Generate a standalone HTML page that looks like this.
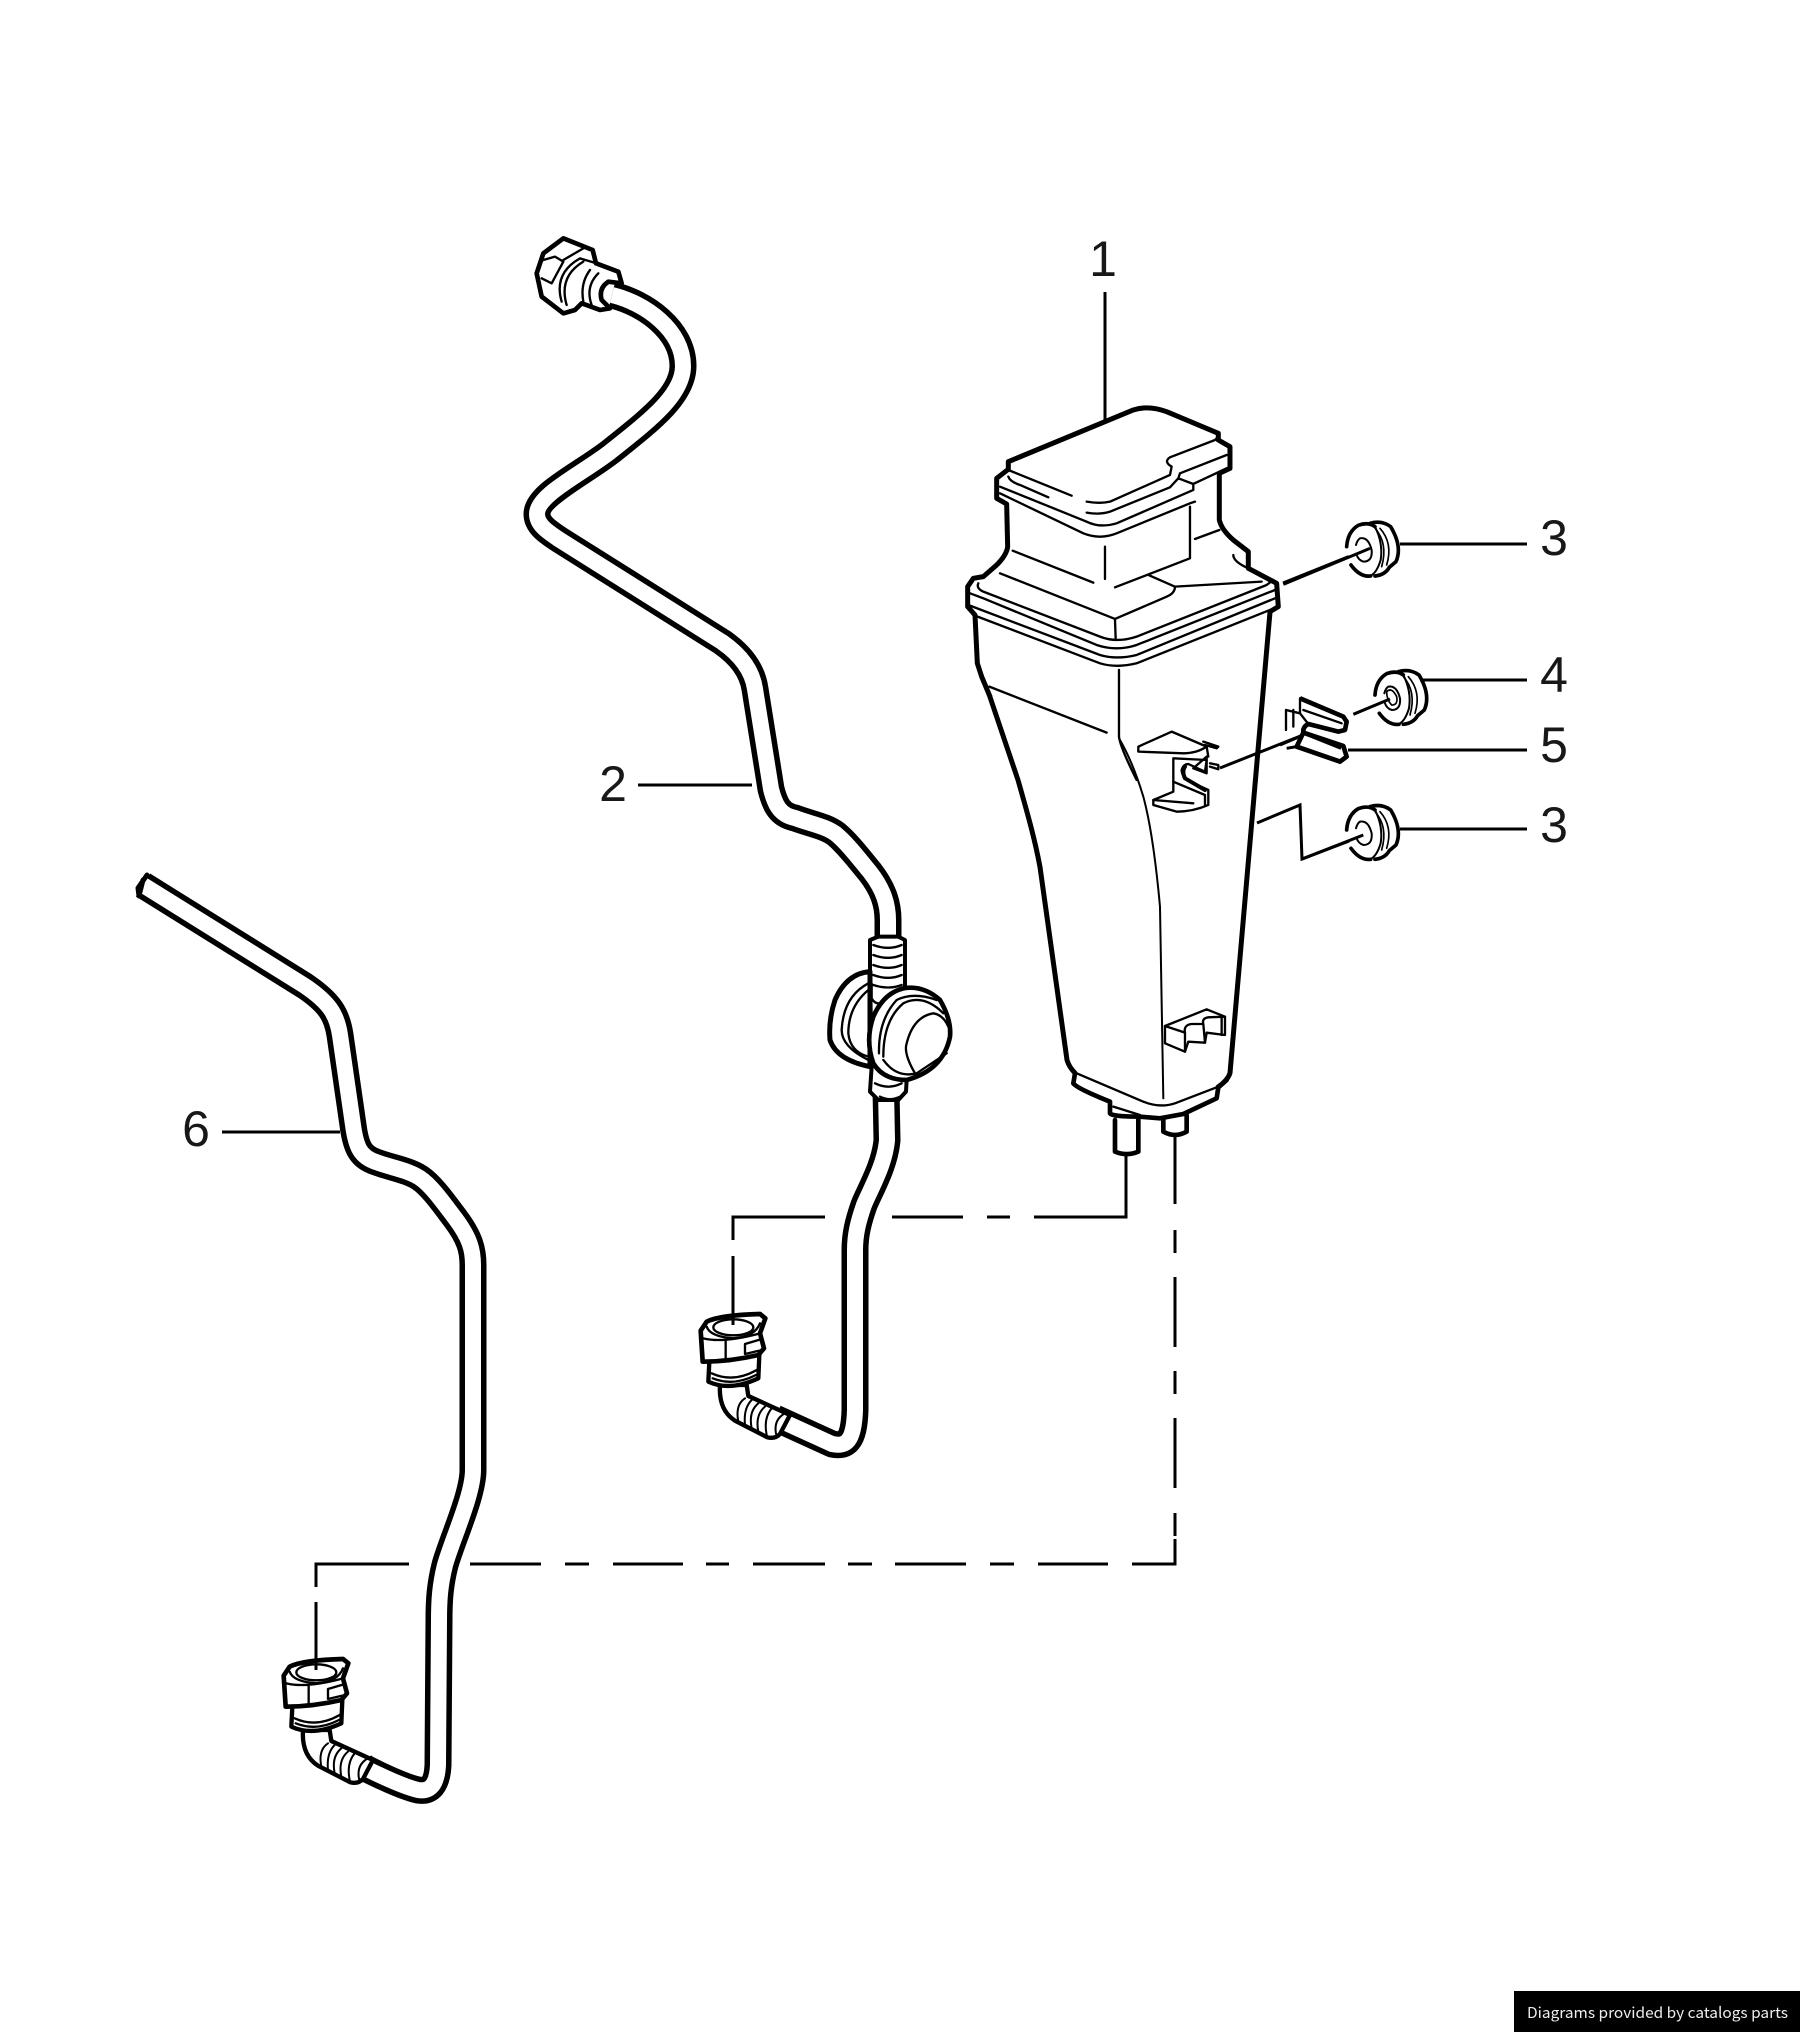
<!DOCTYPE html>
<html><head><meta charset="utf-8"><title>Diagram</title>
<style>html,body{margin:0;padding:0;background:#fff}svg{display:block}
.k{fill:none;stroke:#000;stroke-linecap:round;stroke-linejoin:round}
text{font-family:"Liberation Sans",sans-serif;font-size:50px;fill:#181818}
</style></head><body>
<svg xmlns="http://www.w3.org/2000/svg" width="1800" height="2032" viewBox="0 0 1800 2032">
<defs>
<g id="conn">
 <path d="M120 285Q115 360 165 392L262 442Q285 448 300 432L330 375L205 318L200 285Z" fill="#fff" stroke="#000" stroke-width="13" stroke-linejoin="round"/>
 <path class="k" stroke-width="6" d="M195 325Q165 345 175 395M215 330Q190 355 195 405M235 340Q205 365 215 415M255 350Q225 375 235 425M275 355Q250 385 260 435M325 365Q275 385 290 440"/>
 <path d="M88 215L85 275Q150 305 235 265L238 195Z" fill="#fff" stroke="#000" stroke-width="13" stroke-linejoin="round"/>
 <path class="k" stroke-width="7" d="M95 250Q160 280 230 240M98 265Q160 290 228 255"/>
 <path d="M68 215L62 122L80 95Q120 75 240 72L256 85L240 130L252 175L235 195Q150 215 68 215Z" fill="#fff" stroke="#000" stroke-width="14" stroke-linejoin="round"/>
 <path class="k" stroke-width="7" d="M70 145Q130 160 240 130M137 152L137 212M242 148L195 162L195 192L238 182"/>
 <ellipse cx="160" cy="112" rx="60" ry="24" fill="#fff" stroke="#000" stroke-width="7"/>
 <path class="k" stroke-width="7" d="M80 110Q90 140 160 145Q225 140 240 100"/>
</g>
<g id="nut">
 <path class="k" stroke-width="11" d="M270 70Q305 60 332 80Q368 140 348 185L328 202Q315 225 285 228"/>
 <path class="k" stroke-width="5" d="M285 85Q325 130 305 200M300 85Q340 130 320 195"/>
 <path d="M215 95Q250 65 280 80Q310 130 300 180Q285 230 250 228Q205 210 200 130Z" fill="#fff" stroke="none"/>
 <path class="k" stroke-width="11" d="M200 140Q203 95 235 76Q265 65 285 80M213 195Q240 232 272 228"/>
 <path class="k" stroke-width="6" d="M285 80Q310 130 302 180Q290 220 270 228"/>
 <path class="k" stroke-width="6" d="M240 115Q265 110 275 150Q278 185 250 185Q235 180 230 165M228 135Q232 120 240 115"/>
</g>
</defs>

<!-- tube 6 -->
<g fill="none" stroke-linejoin="round">
<path d="M143 885L305 986C330 1003 337 1015 340 1035L353 1125C356 1148 361 1157 376 1162C392 1168 408 1170 420 1178C432 1186 445 1205 455 1218C470 1238 473 1250 473 1265L473 1470C473 1495 452 1540 445 1565C440 1585 439 1600 439 1620L438 1765C437 1785 430 1792 418 1790C405 1787 385 1778 365 1768" stroke="#000" stroke-width="27"/>
<path d="M143 885L305 986C330 1003 337 1015 340 1035L353 1125C356 1148 361 1157 376 1162C392 1168 408 1170 420 1178C432 1186 445 1205 455 1218C470 1238 473 1250 473 1265L473 1470C473 1495 452 1540 445 1565C440 1585 439 1600 439 1620L438 1765C437 1785 430 1792 418 1790C405 1787 385 1778 365 1768" stroke="#fff" stroke-width="16"/>
<!-- tube 2 -->
<path d="M612 295C645 303 683 330 683 366C683 395 650 420 610 452C580 475 537 495 537 514C537 525 548 532 560 540L722 642C745 658 753 675 755 689L771 789C775 805 780 815 795 818C811 824 825 826 836 834C848 844 860 860 870 872C884 890 888 905 888 920L888 950" stroke="#000" stroke-width="27"/>
<path d="M612 295C645 303 683 330 683 366C683 395 650 420 610 452C580 475 537 495 537 514C537 525 548 532 560 540L722 642C745 658 753 675 755 689L771 789C775 805 780 815 795 818C811 824 825 826 836 834C848 844 860 860 870 872C884 890 888 905 888 920L888 950" stroke="#fff" stroke-width="16"/>
<path d="M886 1090L887 1140C885 1165 870 1190 864 1205C858 1222 855 1235 855 1250L855 1410C854 1442 846 1447 832 1444L775 1418" stroke="#000" stroke-width="27"/>
<path d="M886 1090L887 1140C885 1165 870 1190 864 1205C858 1222 855 1235 855 1250L855 1410C854 1442 846 1447 832 1444L775 1418" stroke="#fff" stroke-width="16"/>
</g>
<path class="k" stroke-width="5" d="M147 875L138 888L139 896M143 880L140 892"/>

<!-- leaders -->
<g fill="none" stroke="#000" stroke-width="3">
 <path d="M1126 1155V1217H1034M1010 1217H987M963 1217H892M825 1217H733V1240M733 1256V1320"/>
 <path d="M1175 1136V1204M1175 1230V1253M1175 1277V1347M1175 1371V1394M1175 1418V1488M1175 1513V1536M1175 1539V1564H1132M1108 1564H1038M1014 1564H990M966 1564H895M872 1564H848M825 1564H753M729 1564H706M683 1564H613M589 1564H565M541 1564H470M409 1564H316V1587M316 1602V1668"/>
 <path d="M1105 292V422M638 785H752M222 1132H340"/>
 <path d="M1283 583L1370 548M1400 544H1527M1220 768L1303 735M1420 680H1527M1348 750H1527M1400 829H1527M1257 823L1300 805L1302 859L1365 835"/>
</g>

<!-- connectors -->
<g transform="translate(680 1290) scale(.3333)"><use href="#conn"/></g>
<g transform="translate(263 1635) scale(.3333)"><use href="#conn"/></g>
<path d="M733 1305V1325M316 1650V1670" stroke="#000" stroke-width="3"/>

<!-- top connector -->
<g transform="translate(520 220) scale(.3333)">
 <path d="M130 55L70 100L50 160L65 230L130 280L165 270L185 250L240 270L270 265L245 240Q235 205 265 185L305 190L295 155L228 130L218 90Z" fill="#fff" stroke="#000" stroke-width="14" stroke-linejoin="round"/>
 <path class="k" stroke-width="7" d="M70 120L105 110L130 125L95 190L65 175M130 120L190 85M125 245Q100 160 180 115L230 130M210 150Q180 190 190 245M235 160Q195 200 215 255M140 255Q115 170 190 125"/>
</g>

<!-- bulb -->
<g transform="translate(800 920) scale(.3333)">
 <path d="M210 155L210 60L235 50L295 50L315 60L315 210L320 480L318 515L295 540L235 540L210 515L215 440Z" fill="#fff" stroke="#000" stroke-width="12" stroke-linejoin="round"/>
 <path class="k" stroke-width="7" d="M220 75Q265 92 305 75M220 105Q265 122 305 105M220 135Q265 152 305 135M220 165Q265 182 305 165M220 195Q265 210 305 195M225 490Q265 510 305 490M240 530Q270 545 300 530"/>
 <path d="M210 155Q140 160 105 240Q85 300 90 360Q110 420 210 440Z" fill="#fff" stroke="#000" stroke-width="15" stroke-linejoin="round"/>
 <path class="k" stroke-width="7" d="M205 190Q130 230 125 330Q125 380 205 420M205 210Q145 260 145 340Q150 395 205 410M215 190L215 235Q225 255 250 250"/>
 <path d="M310 205Q370 195 420 240Q455 300 450 350Q430 450 320 480Q250 480 220 430Q195 360 220 290Q250 220 310 205Z" fill="#fff" stroke="#000" stroke-width="14" stroke-linejoin="round"/>
 <path class="k" stroke-width="7" d="M237 400Q235 300 290 240Q340 215 410 240M250 410Q250 300 310 250Q370 220 430 280M345 460Q310 400 320 370Q340 290 400 280Q430 285 445 320M250 420Q290 475 350 460L440 400"/>
</g>

<!-- tank outer edges, absolute -->
<path class="k" stroke-width="5" d="M990 697L1018 780C1028 815 1035 840 1040 867L1067 1060Q1069 1067 1075 1073M1270 612L1230 1073Q1228 1080 1218 1087"/>

<!-- tank upper, coordinates from crop at (940,380) -->
<g transform="translate(940 380) scale(.3333)">
 <path class="k" stroke-width="15" d="M205 268L205 245L580 90Q625 75 680 95L835 160L835 180L870 200L870 265L838 280L838 420Q845 450 880 480L925 515L925 565L1010 610L1015 680L990 695M205 268L170 295L170 355L200 372L203 500Q200 525 170 555L130 590L100 595L83 620L83 680L105 705L112 850L125 890L150 950"/>
 <path class="k" stroke-width="7" d="M205 270L395 347M205 290Q210 305 240 315L325 352M440 365Q480 372 510 365L690 285L695 260Q670 245 690 232L825 180L835 170M440 398Q480 405 510 395L690 322L715 295L720 280L860 225M715 295L760 312L760 330L530 430Q480 445 440 425L180 320M760 312L860 265M180 340L430 460Q480 480 530 460L750 370L765 365M750 380L750 535L525 622M495 500L495 597M218 512L460 608M180 580L525 717L680 650Q705 640 705 620L625 585M705 620L965 605M525 717L527 775M765 477L838 450M880 525Q880 545 925 565M115 610Q108 625 130 635L480 770Q530 790 590 770L980 615L1000 600M90 640L130 655L470 795Q530 815 590 795L1005 630M85 675L480 825Q530 840 590 825L1005 655M100 705L480 850Q530 865 590 850L990 690M537 870L537 1070Q540 1100 590 1200M148 920L500 1058"/>
</g>
<!-- tank lower, crop at (1040,740) -->
<g transform="translate(1040 740) scale(.3333)">
 <path class="k" stroke-width="6" d="M240 0Q280 70 310 170Q340 280 360 500L370 1075"/>
</g>
<!-- tank base, crop at (1060,1000) -->
<g transform="translate(1060 1000) scale(.3333)">
 <path class="k" stroke-width="14" d="M45 220L40 250Q50 265 150 305L150 340Q155 350 240 350L300 355L370 342L470 295L475 262L500 240"/>
 <path class="k" stroke-width="14" d="M165 360L165 455Q200 470 235 455L235 350M310 358L310 395Q345 415 380 395L380 345"/>
 <path class="k" stroke-width="7" d="M50 220L250 305Q300 325 345 310L470 262M160 320L240 345"/>
 <path d="M315 78L440 28L495 50L495 105L440 98L435 128L385 125L375 155L315 130Z" fill="#fff" stroke="#000" stroke-width="7" stroke-linejoin="round"/>
 <path class="k" stroke-width="7" d="M315 78L375 98L375 155M375 98Q370 75 395 72L430 72L435 128M430 72Q425 55 445 52L495 50M485 55L485 105"/>
</g>
<!-- bracket on tank -->
<g transform="translate(1040 740) scale(.3333)">
 <path d="M400 55L400 155L340 180L340 195L410 215Q460 215 505 195L505 150L450 125Q425 110 425 90Q430 72 445 72L495 95L500 60L400 55Z" fill="#fff" stroke="#000" stroke-width="7" stroke-linejoin="round"/>
 <path class="k" stroke-width="12" d="M435 80Q425 95 435 115L495 150"/>
 <path class="k" stroke-width="7" d="M400 125L495 165L495 195M340 180L460 190"/>
</g>
<g transform="translate(940 380) scale(.3333)">
 <path d="M595 1100L695 1055L800 1100Q770 1120 730 1120L595 1115Z" fill="#fff" stroke="#000" stroke-width="7" stroke-linejoin="round"/>
 <path class="k" stroke-width="7" d="M790 1085L835 1100L830 1105L795 1095M760 1165L800 1130L800 1180L760 1165M800 1100L805 1130M810 1150L835 1155L835 1168L810 1160"/>
</g>

<!-- hardware -->
<g transform="translate(1280 500) scale(.3333)">
 <use href="#nut"/>
 <path d="M10 253L270 145" stroke="#000" stroke-width="9"/>
 <g transform="translate(0 850)"><use href="#nut"/></g>
 <path d="M64 1078L250 1005" stroke="#000" stroke-width="9"/>
 <g transform="translate(85 445)"><use href="#nut"/></g>
 <path class="k" stroke-width="5" d="M320 575Q335 560 350 590Q355 615 335 615Q320 600 320 575"/>
 <path d="M220 643L330 597" stroke="#000" stroke-width="9"/>
 <path d="M60 595L190 650L200 665L195 690L175 695L85 672Q68 680 70 698L190 738L200 770L180 785L50 740L70 698" fill="#fff" stroke="#000" stroke-width="14" stroke-linejoin="round"/>
 <path class="k" stroke-width="7" d="M60 595L60 640L18 630L18 690M70 630L185 670M80 705L180 745M40 630L40 680M60 640L85 672"/>
 <path d="M0 735L70 705" stroke="#000" stroke-width="9"/>
 <path d="M20 745L50 740" stroke="#000" stroke-width="9"/>
</g>

<!-- labels -->
<g text-anchor="middle">
 <text x="1103" y="276">1</text>
 <text x="1554" y="555">3</text>
 <text x="1554" y="692">4</text>
 <text x="1554" y="762">5</text>
 <text x="1554" y="842">3</text>
 <text x="613" y="801">2</text>
 <text x="196" y="1146">6</text>
</g>

<rect x="1514" y="1991" width="286" height="41" fill="#000"/>
<text x="1527" y="2018" textLength="261" lengthAdjust="spacingAndGlyphs" style="font-family:'Noto Sans CJK SC','Liberation Sans',sans-serif;font-size:15px;fill:#eee">Diagrams provided by catalogs parts</text>
</svg>
</body></html>
